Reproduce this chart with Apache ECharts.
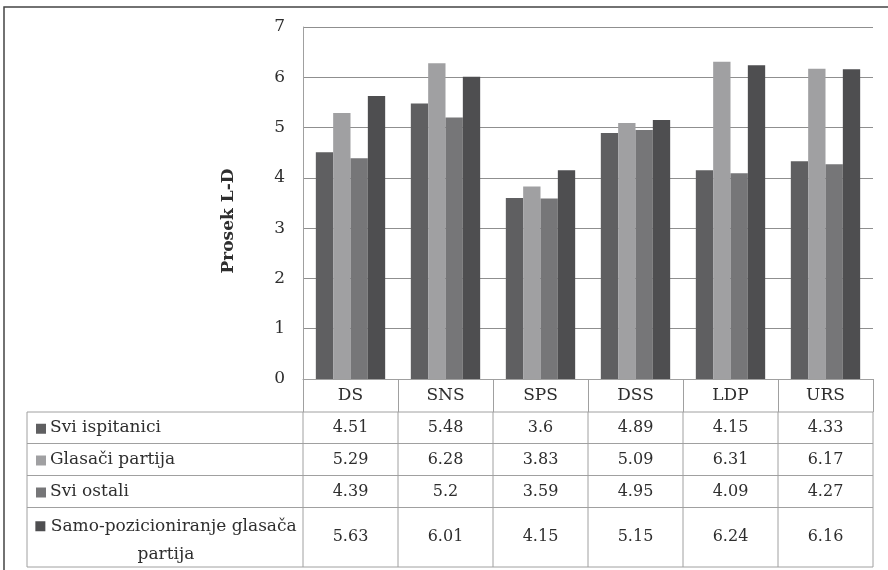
<!DOCTYPE html>
<html>
<head>
<meta charset="utf-8">
<script src="https://cdn.jsdelivr.net/npm/echarts@6/dist/echarts.min.js"></script>
<style>html,body{margin:0;padding:0;background:#fff;}#c{width:888px;height:570px;}</style>
</head>
<body>
<div id="c"></div>
<script>
const categories = ['DS', 'SNS', 'SPS', 'DSS', 'LDP', 'URS'];
const seriesNames = ['Svi ispitanici', 'Glasači partija', 'Svi ostali', 'Samo-pozicioniranje glasača partija'];
const sviIspitanici = [4.51, 5.48, 3.6, 4.89, 4.15, 4.33];
const glasaciPartija = [5.29, 6.28, 3.83, 5.09, 6.31, 6.17];
const sviOstali = [4.39, 5.2, 3.59, 4.95, 4.09, 4.27];
const samoPozicioniranje = [5.63, 6.01, 4.15, 5.15, 6.24, 6.16];
const yMin = 0, yMax = 7, yStep = 1;
const axisName = 'Prosek L-D';

const seriesData = [sviIspitanici, glasaciPartija, sviOstali, samoPozicioniranje];
const colors = ['#5f5f61', '#a0a0a2', '#767678', '#4e4e50'];
const FONT = '"DejaVu Serif", "Liberation Serif", serif';
const TXT = '#2e2e2e';
const LINE = '#a0a0a0';

const chart = echarts.init(document.getElementById('c'), null, {renderer: 'canvas'});
const option = {
  animation: false,
  backgroundColor: '#ffffff',
  grid: {left: 303, right: 15, top: 27, bottom: 191, containLabel: false},
  xAxis: {
    type: 'category', data: categories,
    axisLine: {show: true, lineStyle: {color: LINE, width: 1}},
    axisTick: {show: true, interval: 0, length: 33, lineStyle: {color: LINE}},
    axisLabel: {interval: 0, margin: 8, fontFamily: FONT, fontSize: 17, color: TXT}
  },
  yAxis: {
    type: 'value', min: yMin, max: yMax, interval: yStep,
    axisLine: {show: true, lineStyle: {color: LINE}},
    axisTick: {show: false},
    splitLine: {lineStyle: {color: '#8f8f8f'}},
    axisLabel: {margin: 18, fontFamily: FONT, fontSize: 17, color: TXT}
  },
  series: seriesData.map((d, i) => ({
    type: 'bar', name: seriesNames[i], data: d,
    barGap: '0%', barCategoryGap: '27%',
    itemStyle: {color: colors[i]}
  }))
};
chart.setOption(option);

// data table under the axis, aligned on the category axis
const c0 = chart.convertToPixel({xAxisIndex: 0}, 0);
const c1 = chart.convertToPixel({xAxisIndex: 0}, 1);
const half = (c1 - c0) / 2;
const axisY = chart.convertToPixel({yAxisIndex: 0}, yMin);
const headerH = 33;
const rowHeights = [31.5, 32, 32, 59.5];
const tableLeft = 27;
const plotLeft = c0 - half;
const plotRight = c0 + half * (2 * categories.length - 1);
const g = [];
// outer frame
g.push({type: 'rect', shape: {x: 4, y: 7, width: 900, height: 600}, style: {fill: 'none', stroke: '#444', lineWidth: 1.5}, z: 10});
// axis name
g.push({type: 'text', x: 229, y: 221, rotation: Math.PI / 2,
  style: {text: axisName, font: 'bold 17px ' + FONT, fill: TXT, align: 'center', verticalAlign: 'middle'}});
let y = axisY + headerH;
const tableTop = y;
const tableBottom = tableTop + rowHeights.reduce((a, b) => a + b, 0);
g.push({type: 'line', shape: {x1: tableLeft, y1: tableTop, x2: plotRight, y2: tableTop}, style: {stroke: LINE, lineWidth: 1}});
g.push({type: 'line', shape: {x1: tableLeft, y1: tableTop, x2: tableLeft, y2: tableBottom}, style: {stroke: LINE, lineWidth: 1}});
for (let k = 0; k <= categories.length; k++) {
  const x = plotLeft + 2 * half * k;
  g.push({type: 'line', shape: {x1: x, y1: tableTop, x2: x, y2: tableBottom}, style: {stroke: LINE, lineWidth: 1}});
}
seriesData.forEach((d, i) => {
  const h = rowHeights[i];
  const cy = y + h / 2;
  if (i < 3) {
    g.push({type: 'rect', shape: {x: 36, y: cy - 4, width: 10, height: 10}, style: {fill: colors[i]}});
    g.push({type: 'text', x: 50, y: cy, style: {text: seriesNames[i], font: '17px ' + FONT, fill: TXT, align: 'left', verticalAlign: 'middle'}});
  } else {
    const words = seriesNames[i].split(' ');
    const line1 = words.slice(0, 2).join(' ');
    const line2 = words.slice(2).join(' ');
    g.push({type: 'text', x: (tableLeft + plotLeft) / 2 + 1, y: cy + 3,
      style: {text: '{m|} ' + line1 + '\n' + line2, font: '17px ' + FONT, fill: TXT, align: 'center', verticalAlign: 'middle', lineHeight: 28,
        rich: {m: {width: 10, height: 10, backgroundColor: colors[i]}}}});
  }
  d.forEach((v, j) => {
    g.push({type: 'text', x: c0 + 2 * half * j, y: cy, style: {text: String(v), font: '16px ' + FONT, fill: TXT, align: 'center', verticalAlign: 'middle'}});
  });
  y += h;
  g.push({type: 'line', shape: {x1: tableLeft, y1: y, x2: plotRight, y2: y}, style: {stroke: LINE, lineWidth: 1}});
});
chart.setOption({graphic: {elements: g}});
</script>
</body>
</html>
